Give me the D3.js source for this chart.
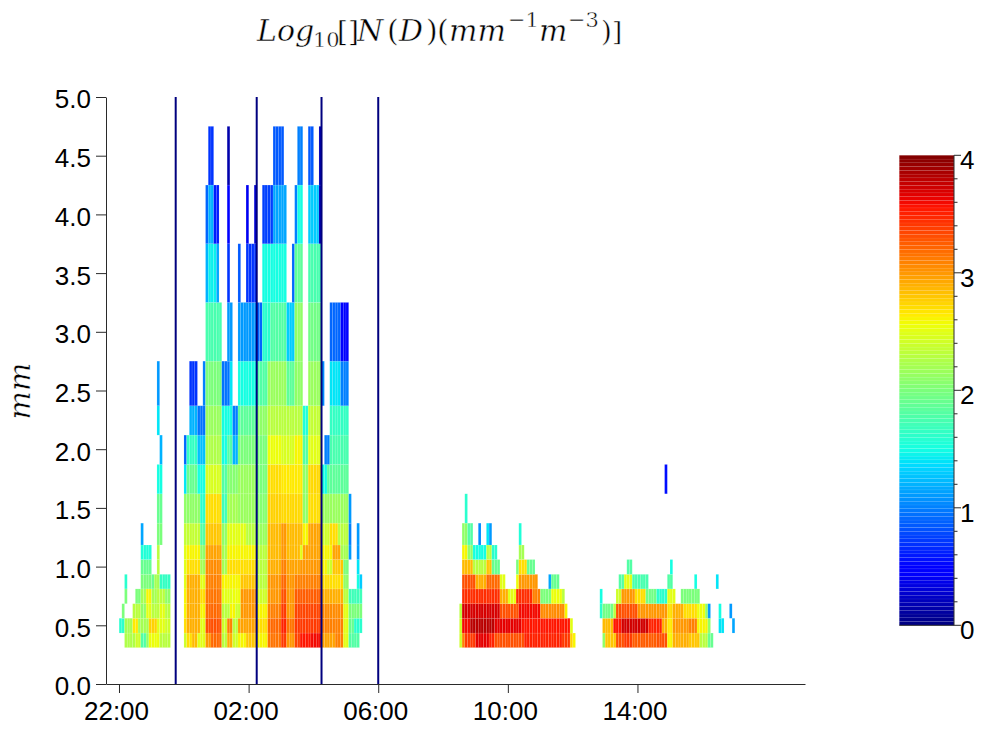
<!DOCTYPE html>
<html><head><meta charset="utf-8">
<script src="https://cdn.jsdelivr.net/npm/d3@7"></script>
<style>html,body{margin:0;padding:0;background:#fff}svg{display:block}
text{font-family:"Liberation Sans",Arial,sans-serif;fill:#000}
.m{font-family:"DejaVu Serif",serif;stroke:#fff;stroke-width:.45px}</style></head><body>
<script>
// Diameter class edges (mm)
const diameterEdges=[0.31,0.434,0.56,0.684,0.81,0.934,1.06,1.184,1.37,1.62,1.87,2.12,2.37,2.75,3.25,3.75,4.25,4.75];
// log10 N(D) per diameter class: [first 5-min bin, end bin, value]; bin 0 starts at 22:00
const d00=[[2,6,2.25],[6,8,2.4],[8,10,1.8],[10,11,2.1],[11,15,2.55],[15,19,2.3],[24,25,2.4],[25,27,2.7],[27,29,2.85],[29,32,2.5],[32,34,3.0],[34,38,3.2],[38,40,2.3],[40,42,2.9],[42,44,2.4],[44,47,2.6],[47,51,2.8],[51,55,2.6],[55,60,3.15],[60,62,3.4],[62,65,3.0],[65,67,3.35],[67,71,3.55],[71,75,3.6],[75,80,2.95],[80,83,3.1],[83,85,2.5],[85,89,1.8],[126,127,2.4],[127,128,3.1],[128,132,3.4],[132,137,3.65],[137,139,3.5],[139,150,3.3],[150,164,3.5],[164,167,3.4],[167,168,2.75],[168,169,2.6],[179,180,2.1],[180,184,2.8],[184,187,3.3],[187,190,3.4],[190,199,3.25],[199,203,3.3],[203,205,2.6],[205,211,2.9],[211,215,2.8],[215,218,2.3],[218,220,1.9]];
const d01=[[0,2,1.6],[2,5,2.2],[5,7,2.65],[7,11,2.2],[11,14,2.75],[14,17,2.5],[17,19,2.4],[24,25,2.7],[25,30,2.9],[30,32,2.5],[32,38,3.3],[38,40,2.4],[40,42,3.1],[42,44,2.3],[44,51,2.95],[51,55,2.7],[55,60,3.2],[60,62,3.5],[62,65,3.15],[65,75,3.4],[75,83,3.1],[83,85,2.5],[85,87,1.9],[87,90,1.6],[126,127,2.4],[127,130,3.6],[130,139,3.8],[139,149,3.65],[149,167,3.55],[167,168,2.5],[179,183,2.85],[183,186,3.55],[186,196,3.72],[196,201,3.5],[201,203,2.9],[203,205,2.65],[205,211,3.0],[211,214,3.1],[214,218,2.6],[218,219,2.1],[222,224,1.4],[227,228,1.15]];
const d02=[[1,2,2.0],[5,8,2.3],[8,10,2.1],[10,12,2.5],[12,15,2.3],[15,17,2.5],[17,19,2.3],[24,25,2.6],[25,30,2.9],[30,32,2.6],[32,38,3.2],[38,41,2.3],[41,43,2.6],[43,45,2.4],[45,51,3.0],[51,55,2.6],[55,60,3.1],[60,62,3.4],[62,65,3.0],[65,75,3.35],[75,83,3.05],[83,85,2.5],[85,90,2.0],[126,127,2.3],[127,141,3.7],[141,148,3.3],[148,156,3.6],[156,165,3.05],[165,166,2.6],[178,179,1.6],[179,183,1.95],[183,184,2.3],[184,192,3.3],[192,203,3.0],[203,205,2.7],[205,209,2.9],[209,214,2.7],[214,217,2.55],[217,218,2.1],[218,219,1.1],[222,223,1.5],[226,227,1.1]];
const d03=[[2,3,2.0],[6,8,2.0],[8,10,2.2],[10,12,2.6],[12,14,2.2],[14,17,2.3],[17,19,2.1],[24,25,2.6],[25,30,2.9],[30,32,2.7],[32,38,3.15],[38,42,2.5],[42,45,2.55],[45,51,3.0],[51,55,2.4],[55,60,3.0],[60,62,3.3],[62,65,3.0],[65,75,3.25],[75,83,2.9],[83,85,2.3],[85,90,1.7],[127,141,3.45],[141,144,2.9],[144,146,2.5],[146,147,2.55],[147,153,3.45],[153,156,3.1],[156,160,2.0],[160,164,2.55],[164,165,2.3],[178,179,1.5],[184,186,2.4],[186,191,3.0],[191,195,2.7],[195,199,1.95],[199,203,1.6],[203,206,2.5],[208,215,2.0]];
const d04=[[2,3,1.6],[8,12,2.0],[12,13,1.9],[13,15,2.2],[15,19,1.65],[24,25,2.5],[25,30,2.9],[30,32,2.5],[32,38,3.1],[38,45,2.6],[45,51,2.8],[51,55,2.3],[55,60,3.0],[60,62,3.2],[62,65,3.0],[65,75,3.1],[75,83,2.7],[83,85,2.1],[88,89,1.5],[89,90,1.3],[127,132,3.3],[132,136,2.9],[136,141,3.2],[141,143,2.5],[147,148,2.55],[148,155,3.0],[159,160,1.15],[160,163,1.9],[185,187,1.8],[187,190,2.5],[190,196,1.75],[203,205,1.8],[213,214,1.5],[221,222,1.4]];
const d05=[[8,12,1.9],[14,15,2.3],[24,25,2.5],[25,30,2.7],[30,32,2.2],[32,38,3.05],[38,40,2.2],[40,51,2.7],[51,55,2.3],[55,60,2.9],[60,62,3.1],[62,67,2.95],[67,75,3.0],[75,77,2.6],[77,79,2.4],[79,83,2.8],[83,85,2.0],[88,89,1.4],[127,131,2.85],[131,136,2.3],[136,138,2.8],[138,141,1.9],[147,148,2.0],[148,151,2.7],[151,154,1.9],[188,190,1.8],[204,205,1.5]];
const d06=[[8,12,1.55],[14,15,2.3],[24,25,2.5],[25,30,2.6],[30,32,2.1],[32,38,2.95],[38,40,2.2],[40,51,2.6],[51,55,2.3],[55,60,2.85],[60,62,3.0],[62,67,2.85],[67,68,2.5],[68,75,2.95],[75,79,2.6],[79,82,2.95],[82,85,2.2],[85,86,1.1],[88,89,1.1],[127,129,2.6],[129,131,2.1],[131,136,1.5],[136,138,2.3],[138,140,1.6],[148,150,2.2]];
const d07=[[8,9,1.15],[14,16,2.0],[24,30,2.35],[30,32,1.8],[32,38,2.8],[38,40,2.1],[40,47,2.5],[47,51,2.3],[51,55,2.15],[55,60,2.85],[60,62,3.0],[62,68,2.85],[68,70,2.6],[70,75,2.95],[75,78,2.4],[78,81,2.7],[81,85,2.3],[85,86,1.0],[88,89,1.1],[127,129,2.1],[129,131,1.8],[133,134,1.05],[136,137,1.4],[137,138,1.1],[148,149,1.55]];
const d08=[[14,16,1.9],[24,30,2.1],[30,32,1.6],[32,38,2.7],[38,40,1.7],[40,44,2.2],[44,51,2.15],[51,55,2.05],[55,60,2.75],[60,68,2.72],[68,70,2.1],[70,75,2.7],[75,85,2.15],[85,86,1.1],[128,129,1.6]];
const d09=[[14,16,1.5],[24,25,1.4],[25,29,1.9],[29,32,1.5],[32,38,2.45],[38,40,1.8],[40,44,2.05],[44,51,2.15],[51,55,2.0],[55,60,2.7],[60,68,2.65],[68,70,2.1],[70,75,2.72],[75,77,1.5],[77,85,1.85],[202,203,0.55]];
const d10=[[15,16,1.2],[24,25,0.9],[25,29,1.65],[29,32,1.25],[32,38,2.25],[38,40,1.5],[40,42,1.8],[42,44,1.2],[44,51,2.0],[51,55,2.0],[55,60,2.55],[60,65,2.45],[65,68,2.6],[68,70,1.8],[70,75,2.5],[76,78,1.0],[78,85,1.75]];
const d11=[[14,15,1.4],[26,29,1.2],[29,32,0.95],[32,38,2.15],[38,42,1.5],[42,44,1.0],[44,51,1.85],[51,55,2.1],[55,68,2.3],[68,70,1.55],[70,75,2.35],[78,85,1.65]];
const d12=[[14,15,1.1],[26,29,0.7],[31,32,1.0],[32,38,2.0],[38,41,0.95],[41,42,1.4],[44,51,1.5],[51,55,1.8],[55,62,2.15],[62,65,1.85],[65,68,2.1],[70,75,2.15],[75,76,1.05],[78,82,1.4],[82,85,1.0]];
const d13=[[32,38,1.75],[40,42,1.1],[44,51,1.1],[51,53,0.9],[53,56,1.6],[56,62,1.8],[62,65,1.3],[65,68,2.1],[70,75,1.95],[78,82,0.9],[82,85,0.5]];
const d14=[[32,33,1.2],[33,36,1.45],[36,37,1.15],[40,41,0.7],[44,45,0.85],[47,51,0.7],[53,62,1.5],[64,65,0.9],[65,68,1.85],[70,75,1.75]];
const d15=[[32,33,0.9],[33,35,1.2],[35,37,0.6],[40,41,0.5],[47,48,0.4],[50,51,0.3],[53,57,0.75],[57,62,1.15],[65,66,1.0],[66,68,1.5],[70,74,1.3],[74,75,0.2]];
const d16=[[33,35,0.7],[40,41,0.15],[57,61,0.85],[66,68,1.0],[70,72,0.85],[74,75,0.2]];
const rows=[d00,d01,d02,d03,d04,d05,d06,d07,d08,d09,d10,d11,d12,d13,d14,d15,d16];
// Marked times, hours after 22:00
const markerHours=[1.75,4.25,6.25,8];
const xTickHours=[0,4,8,12,16];
const xTickLabels=["22:00","02:00","06:00","10:00","14:00"];
const yTicks=[0,0.5,1,1.5,2,2.5,3,3.5,4,4.5,5];
const cbTicks=[0,1,2,3,4];
const cbMinor=[0.2,0.4,0.6,0.8,1.2,1.4,1.6,1.8,2.2,2.4,2.6,2.8,3.2,3.4,3.6,3.8];

const W=982,H=729,axisCol="#2a2a2a",FS=26;
const svg=d3.select("body").append("svg").attr("width",W).attr("height",H);
const x=d3.scaleLinear().domain([-0.401,21.17]).range([106,805]);
const y=d3.scaleLinear().domain([0,5]).range([684,97]);
const r=d3.scaleLinear().domain([0,.35,.66,.89,1]).range([0,0,1,1,.5]).clamp(true);
const g=d3.scaleLinear().domain([0,.125,.375,.64,.91,1]).range([0,0,1,1,0,0]).clamp(true);
const b=d3.scaleLinear().domain([0,.11,.34,.65,1]).range([.5,1,1,0,0]).clamp(true);
const jet=t=>d3.rgb(r(t)*255,g(t)*255,b(t)*255).formatHex();
const color=d3.scaleLinear().domain([0,4]).range([0,1]);

// cells, with the faint light seams of the original mesh
const cells=[];
rows.forEach((runs,i)=>runs.forEach(([a,e,v])=>{for(let c=a;c<e;c++)cells.push({c,i,v});}));
svg.append("g").selectAll("rect").data(cells).join("rect")
  .attr("x",d=>x(d.c/12)+0.15)
  .attr("width",d=>x((d.c+1)/12)-x(d.c/12))
  .attr("y",d=>y(diameterEdges[d.i+1]))
  .attr("height",d=>y(diameterEdges[d.i])-y(diameterEdges[d.i+1]))
  .attr("fill",d=>jet(color(d.v)))
  .attr("stroke","#fff").attr("stroke-opacity",0.16).attr("stroke-width",0.6);

// marker lines
svg.append("g").selectAll("line").data(markerHours).join("line")
  .attr("x1",d=>x(d)).attr("x2",d=>x(d)).attr("y1",y(5)).attr("y2",y(0))
  .attr("stroke","#00007f").attr("stroke-width",2);

// axes
const ax=svg.append("g").attr("transform","translate(0,684)")
  .call(d3.axisBottom(x).tickValues(xTickHours).tickFormat((d,i)=>xTickLabels[i]).tickSize(9).tickSizeOuter(0).tickPadding(8));
const ay=svg.append("g").attr("transform","translate(106,0)")
  .call(d3.axisLeft(y).tickValues(yTicks).tickFormat(d3.format(".1f")).tickSize(10).tickSizeOuter(0).tickPadding(5));
[ax,ay].forEach(s=>{s.selectAll("path,line").attr("stroke",axisCol).attr("stroke-width",1);
  s.selectAll("text").attr("font-family",'"Liberation Sans"').attr("font-size",FS).attr("fill","#000");});
ax.selectAll("text").attr("y",18).attr("dx",-3);
ay.selectAll("text").attr("dy","0.42em");

// colourbar
const cy=d3.scaleLinear().domain([0,4]).range([625.3,155.3]);
const levels=d3.range(0,4,0.032);
svg.append("g").selectAll("rect").data(levels).join("rect")
  .attr("x",899.3).attr("width",54.7)
  .attr("y",d=>cy(d+0.032)).attr("height",d=>cy(d)-cy(d+0.032))
  .attr("fill",d=>jet(color(d+0.016)))
  .attr("stroke","#fff").attr("stroke-opacity",0.1).attr("stroke-width",0.5);
const cb=svg.append("g").attr("transform","translate(954,0)");
cb.append("path").attr("d",`M0,${cy(4)}V${cy(0)}`).attr("stroke",axisCol).attr("fill","none");
svg.append("path").attr("d",`M899.3,${cy(0)}H954`).attr("stroke",axisCol).attr("fill","none");
cb.selectAll("line.maj").data(cbTicks).join("line").attr("class","maj")
  .attr("x1",0).attr("x2",7).attr("y1",d=>cy(d)).attr("y2",d=>cy(d)).attr("stroke",axisCol);
cb.selectAll("line.min").data(cbMinor).join("line").attr("class","min")
  .attr("x1",0).attr("x2",3.5).attr("y1",d=>cy(d)).attr("y2",d=>cy(d)).attr("stroke",axisCol);
cb.selectAll("text").data(cbTicks).join("text")
  .attr("x",6).attr("y",d=>cy(d)+14).attr("font-size",FS).text(d=>d);

// y label
svg.append("text").attr("class","m").attr("transform","translate(30,391) rotate(-90)")
  .attr("text-anchor","middle").attr("font-style","italic").attr("font-size",30).text("mm");

// title, one text with placed runs
const title=svg.append("text").attr("class","m").attr("font-size",30);
const T=(s,px,py,fs,it)=>title.append("tspan").attr("x",px).attr("y",py).attr("font-size",fs)
  .attr("font-style",it?"italic":"normal").text(s);
T("Log",257,41,30,true);
T("10",313,47,21,false);
T("[]",337,41,28,false);
T("N",357,41,30,true);
T("(",387,41,30,false);
T("D",399,41,30,true);
T(")",426,41,30,false);
T("(",437,41,30,false);
T("mm",449,41,30,true);
T("\u22121",508,27,21,false);
T("m",539,41,30,true);
T("\u22123",568,27,21,false);
T(")",601,41,28,false);
T("]",612,41,26,false);
</script></body></html>
